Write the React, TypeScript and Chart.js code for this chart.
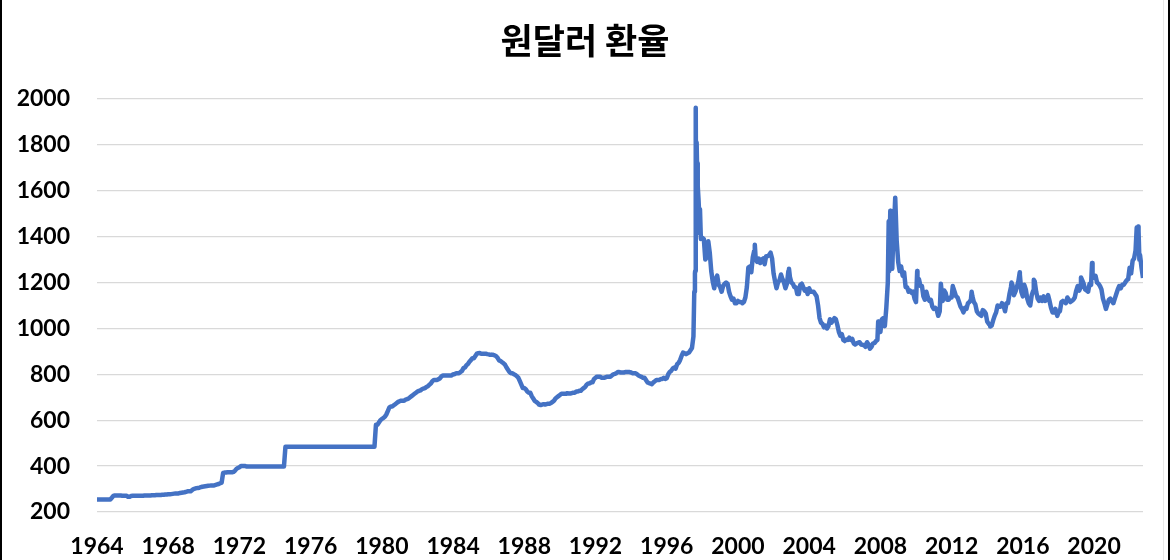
import { useEffect, useRef } from 'react';
import { Chart, registerables } from 'chart.js';

Chart.register(...registerables);

const chartTitle = '원달러 환율';

// first month of the series: May 1964 (start-of-month values, KRW per USD)
const startYear = 1964;
const startMonth = 5;

const rates1964to1969 = [
  255, 255, 255, 255, 255, 255, 255, 255,
  255, 255, 262, 270, 272, 272, 272, 272, 272, 271, 271, 271,
  271, 266, 266, 270, 271, 271, 271, 271, 271, 271, 271, 271,
  272, 272, 272, 272, 272, 273, 273, 273, 274, 274, 274, 274,
  275, 275, 276, 276, 277, 277, 278, 279, 280, 281, 281, 281,
  283, 284, 285, 286, 288, 290, 290, 290, 295, 300, 302, 304,
];

const rates1970to1979 = [
  305, 306, 308, 310, 311, 312, 313, 314, 315, 316, 316, 316,
  318, 320, 322, 325, 328, 370, 372, 372, 373, 373, 373, 373,
  375, 380, 388, 392, 395, 400, 400, 400, 400, 398, 398, 398,
  398, 398, 398, 398, 398, 398, 398, 398, 398, 398, 398, 398,
  398, 398, 398, 398, 398, 398, 398, 398, 398, 398, 398, 484,
  484, 484, 484, 484, 484, 484, 484, 484, 484, 484, 484, 484,
  484, 484, 484, 484, 484, 484, 484, 484, 484, 484, 484, 484,
  484, 484, 484, 484, 484, 484, 484, 484, 484, 484, 484, 484,
  484, 484, 484, 484, 484, 484, 484, 484, 484, 484, 484, 484,
  484, 484, 484, 484, 484, 484, 484, 484, 484, 484, 484, 484,
];

const rates1980to1989 = [
  580, 580, 590, 600, 605, 610, 615, 625, 640, 655, 660, 660,
  665, 670, 675, 680, 683, 685, 685, 685, 690, 692, 695, 700,
  705, 710, 715, 720, 725, 728, 730, 735, 738, 740, 745, 748,
  755, 760, 770, 775, 775, 775, 778, 782, 790, 795, 795, 795,
  795, 795, 795, 795, 800, 800, 805, 805, 805, 810, 815, 827,
  830, 840, 845, 855, 862, 870, 870, 880, 890, 892, 893, 890,
  890, 890, 890, 888, 887, 885, 886, 885, 883, 879, 872, 861,
  858, 853, 848, 842, 830, 820, 810, 805, 805, 800, 797, 792,
  785, 770, 755, 740, 740, 735, 725, 720, 720, 705, 695, 684,
  680, 675, 668, 666, 668, 670, 668, 670, 672, 672, 675, 680,
];

const rates1990to1999 = [
  685, 695, 700, 705, 710, 715, 715, 715, 715, 718, 716, 716,
  718, 720, 720, 725, 725, 728, 728, 735, 740, 745, 755, 760,
  760, 765, 765, 780, 785, 790, 790, 790, 785, 785, 785, 788,
  790, 790, 790, 795, 800, 802, 805, 810, 810, 808, 808, 808,
  810, 810, 810, 810, 808, 805, 805, 805, 800, 795, 792, 789,
  785, 785, 775, 765, 762, 760, 757, 765, 770, 775, 775, 775,
  780, 780, 785, 780, 783, 800, 810, 815, 825, 830, 825, 844,
  850, 862, 880, 895, 892, 888, 892, 895, 905, 915, 965, 1240,
  1415, 1620, 1480, 1390, 1395, 1390, 1300, 1310, 1380, 1330, 1250, 1205,
  1175, 1215, 1230, 1190, 1180, 1160, 1185, 1195, 1200, 1195, 1160, 1140,
];

const rates2000to2009 = [
  1125, 1130, 1110, 1110, 1120, 1115, 1115, 1110, 1115, 1135, 1180, 1265,
  1270, 1245, 1310, 1340, 1300, 1290, 1305, 1285, 1300, 1305, 1280, 1315,
  1315, 1320, 1330, 1305, 1240, 1205, 1175, 1200, 1210, 1235, 1215, 1200,
  1175, 1195, 1250, 1225, 1200, 1195, 1180, 1180, 1150, 1150, 1190, 1195,
  1180, 1165, 1170, 1150, 1175, 1160, 1160, 1160, 1150, 1140, 1100, 1045,
  1025, 1020, 1005, 1012, 1000, 1010, 1040, 1025, 1035, 1045, 1040, 1015,
  985, 968, 975, 950, 945, 952, 950, 960, 950, 955, 935, 930,
  935, 938, 940, 930, 928, 928, 920, 940, 930, 912, 920, 935,
  936, 945, 950, 990, 985, 1040, 1045, 1010, 1090, 1200, 1290, 1470,
  1260, 1380, 1570, 1380, 1290, 1250, 1270, 1230, 1245, 1180, 1180, 1160,
];

const rates2010to2019 = [
  1165, 1155, 1160, 1130, 1115, 1200, 1215, 1185, 1185, 1140, 1125, 1160,
  1135, 1120, 1125, 1095, 1085, 1090, 1080, 1055, 1075, 1180, 1120, 1165,
  1155, 1125, 1125, 1135, 1135, 1180, 1160, 1140, 1135, 1115, 1095, 1085,
  1070, 1090, 1085, 1110, 1115, 1125, 1140, 1115, 1105, 1075, 1065, 1060,
  1055, 1080, 1075, 1065, 1030, 1020, 1015, 1012, 1035, 1055, 1070, 1100,
  1095, 1095, 1110, 1100, 1075, 1110, 1110, 1150, 1180, 1190, 1145, 1160,
  1180, 1205, 1235, 1160, 1140, 1190, 1170, 1130, 1110, 1100, 1145, 1165,
  1205, 1160, 1130, 1120, 1135, 1120, 1140, 1120, 1125, 1145, 1120, 1090,
  1070, 1070, 1085, 1060, 1070, 1075, 1115, 1120, 1115, 1110, 1135, 1125,
  1115, 1120, 1125, 1135, 1165, 1185, 1165, 1180, 1210, 1195, 1170, 1165,
];

const rates2020to2023 = [
  1160, 1195, 1190, 1220, 1230, 1230, 1200, 1195, 1185, 1170, 1130, 1110,
  1085, 1105, 1125, 1130, 1120, 1110, 1130, 1150, 1170, 1185, 1175, 1190,
  1190, 1200, 1210, 1215, 1265, 1240, 1295, 1305, 1340, 1430, 1425, 1320,
  1265, 1220,
];

// intramonth highs / lows (decimal year, rate)
const intramonthDates = [
  1997.88, 1997.93, 1997.955, 1997.97, 1997.985, 1998.025, 1998.05, 1998.065,
  1998.12, 1998.2, 2001.28, 2003.2, 2008.21, 2008.8, 2008.82, 2008.89, 2008.96,
  2009.05, 2009.13, 2010.4, 2011.73, 2012.4, 2013.46, 2014.5, 2015.7, 2016.16,
  2016.95, 2018.27, 2019.6, 2020.22, 2022.73, 2022.81, 2022.88,
];
const intramonthRates = [
  1160, 1250, 1560, 1962, 1420, 1810, 1650, 1720,
  1560, 1520, 1365, 1260, 1030, 1467, 1250, 1513, 1260,
  1380, 1500, 1250, 1195, 1185, 1160, 1008, 1200, 1245,
  1212, 1055, 1222, 1285, 1440, 1444, 1300,
];

const yMin = 200;
const yMax = 2000;
const yStep = 200;
const xTickYears = [1964, 1968, 1972, 1976, 1980, 1984, 1988, 1992, 1996, 2000, 2004, 2008, 2012, 2016, 2020];

const titlePlugin = {
  id: 'centeredTitle',
  afterDraw(chart: any) {
    const ctx = chart.ctx;
    ctx.save();
    ctx.fillStyle = '#000';
    ctx.font = "bold 35px 'Noto Sans CJK KR', sans-serif";
    ctx.textAlign = 'center';
    ctx.textBaseline = 'middle';
    ctx.fillText(chartTitle, chart.width / 2, 41);
    ctx.restore();
  },
};

export default function App() {
  const canvasRef = useRef<HTMLCanvasElement>(null);

  useEffect(() => {
    document.body.style.margin = '0';
    const monthly = [
      ...rates1964to1969,
      ...rates1970to1979,
      ...rates1980to1989,
      ...rates1990to1999,
      ...rates2000to2009,
      ...rates2010to2019,
      ...rates2020to2023,
    ];
    const start = startYear + (startMonth - 1) / 12;
    const points = monthly.map((v, i) => ({ x: start + i / 12, y: v }));
    intramonthDates.forEach((d, i) => points.push({ x: d, y: intramonthRates[i] }));
    points.sort((a, b) => a.x - b.x);
    const end = start + (monthly.length - 1) / 12;

    const tickFont = { family: "Lato, 'Noto Sans', sans-serif", size: 23, weight: 'bold' as const };

    const chart = new Chart(canvasRef.current!, {
      type: 'line',
      data: {
        datasets: [
          {
            data: points,
            borderColor: '#4472C4',
            backgroundColor: '#4472C4',
            borderWidth: 4.5,
            pointRadius: 0,
            tension: 0,
            fill: false,
            borderJoinStyle: 'round',
          },
        ],
      },
      plugins: [titlePlugin],
      options: {
        responsive: false,
        animation: false,
        devicePixelRatio: 1,
        layout: { padding: { left: 0, right: 27, top: 99, bottom: 0 } },
        plugins: {
          legend: { display: false },
          tooltip: { enabled: false },
          title: { display: false },
        },
        scales: {
          x: {
            type: 'linear',
            min: start,
            max: end,
            afterBuildTicks: (scale: any) => {
              scale.ticks = xTickYears.map((yr) => ({ value: start + (yr - startYear) }));
            },
            afterFit: (scale: any) => {
              scale.height = 48;
            },
            ticks: {
              autoSkip: false,
              maxRotation: 0,
              padding: 21,
              color: '#000',
              font: tickFont,
              callback: (v: any) => String(Math.floor(Number(v) + 0.001)),
            },
            grid: { display: false, drawTicks: false },
            border: { display: false },
          },
          y: {
            min: yMin,
            max: yMax,
            afterFit: (scale: any) => {
              scale.width = 97;
            },
            ticks: {
              stepSize: yStep,
              padding: 27,
              color: '#000',
              font: tickFont,
              callback: (v: any) => String(v),
            },
            grid: { color: '#d9d9d9', lineWidth: 1.3, drawTicks: false },
            border: { display: false },
          },
        },
      },
    });
    return () => chart.destroy();
  }, []);

  return (
    <div style={{ position: 'relative', width: 1170, height: 560, background: '#fff' }}>
      <canvas ref={canvasRef} width={1170} height={560} style={{ position: 'absolute', left: 0, top: 0 }} />
      <div style={{ position: 'absolute', left: 0, top: 0, width: 2, height: 560, background: '#000' }} />
      <div style={{ position: 'absolute', left: 1163, top: 0, width: 1, height: 560, background: '#e8e8e8' }} />
      <div style={{ position: 'absolute', left: 1168, top: 0, width: 2, height: 560, background: '#000' }} />
    </div>
  );
}
